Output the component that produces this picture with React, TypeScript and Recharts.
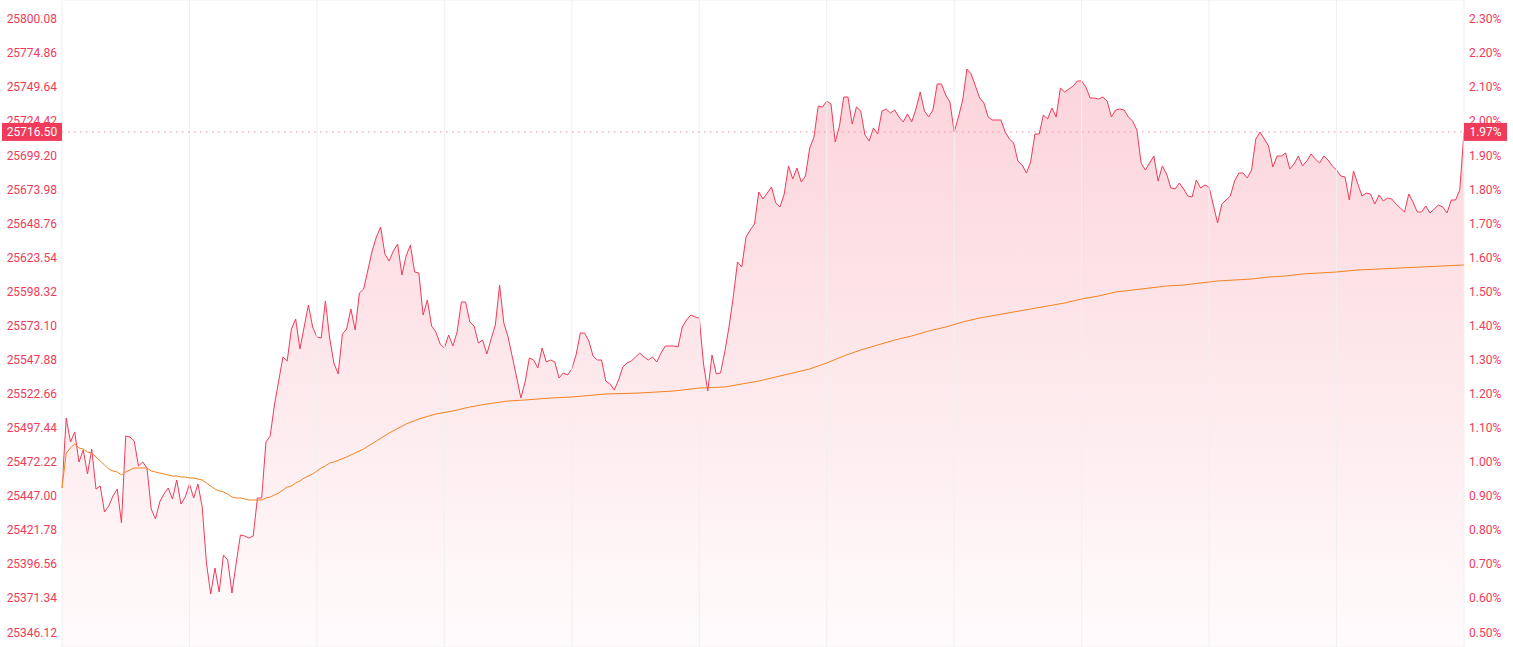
import React from 'react';
import {
  ComposedChart,
  Area,
  Line,
  XAxis,
  YAxis,
  CartesianGrid,
  ReferenceLine,
} from 'recharts';

// one value per minute, 331 minutes
const prices = [
  25452.92, 25504.74, 25486.97, 25494.37, 25472.17, 25481.05, 25463.29, 25481.79, 25452.18, 25454.4,
  25435.16, 25439.6, 25447.0, 25452.18, 25427.02, 25491.41, 25490.67, 25487.71, 25469.21, 25472.17,
  25467.73, 25437.38, 25429.98, 25442.56, 25448.48, 25452.92, 25444.78, 25458.84, 25441.08, 25446.26,
  25455.88, 25445.52, 25455.88, 25438.86, 25397.41, 25374.46, 25393.71, 25375.94, 25403.33, 25399.63,
  25375.2, 25397.41, 25418.13, 25417.39, 25415.91, 25417.39, 25445.52, 25445.52, 25486.97, 25491.41,
  25514.36, 25532.12, 25549.89, 25546.93, 25570.61, 25578.02, 25555.81, 25572.09, 25588.38, 25572.09,
  25564.69, 25563.95, 25591.34, 25563.95, 25545.45, 25537.31, 25566.91, 25570.61, 25585.42, 25569.87,
  25597.26, 25600.22, 25614.29, 25628.35, 25638.71, 25646.11, 25626.13, 25620.95, 25628.35, 25633.53,
  25610.58, 25624.65, 25632.79, 25612.81, 25612.07, 25580.98, 25592.08, 25572.83, 25568.39, 25559.51,
  25556.55, 25566.17, 25558.03, 25568.39, 25590.6, 25590.6, 25575.8, 25572.83, 25560.25, 25562.47,
  25552.11, 25563.21, 25573.57, 25603.18, 25575.06, 25564.69, 25549.89, 25535.08, 25519.54, 25531.38,
  25549.15, 25547.67, 25541.75, 25556.55, 25546.19, 25547.67, 25546.19, 25534.34, 25538.05, 25536.56,
  25541.01, 25551.37, 25567.65, 25567.65, 25561.73, 25550.63, 25547.67, 25547.67, 25532.12, 25529.9,
  25525.46, 25532.86, 25542.49, 25545.45, 25546.93, 25549.89, 25552.85, 25549.89, 25547.67, 25549.89,
  25546.19, 25552.85, 25558.03, 25558.03, 25558.03, 25557.29, 25572.09, 25577.28, 25580.98, 25579.5,
  25578.76, 25544.71, 25524.72, 25551.37, 25537.31, 25538.05, 25553.59, 25572.09, 25594.3, 25620.21,
  25616.51, 25638.71, 25643.89, 25648.34, 25672.02, 25666.84, 25671.28, 25675.72, 25663.88, 25660.92,
  25670.54, 25691.27, 25681.64, 25689.79, 25679.42, 25683.86, 25704.59, 25712.73, 25735.68, 25734.94,
  25739.38, 25737.16, 25709.03, 25720.87, 25742.34, 25742.34, 25722.36, 25734.94, 25731.98, 25714.21,
  25709.77, 25719.39, 25714.95, 25731.98, 25733.46, 25730.5, 25732.72, 25727.54, 25723.84, 25729.76,
  25723.84, 25733.46, 25746.04, 25731.98, 25727.54, 25732.72, 25751.96, 25751.96, 25743.82, 25738.64,
  25716.43, 25727.54, 25740.12, 25763.07, 25759.37, 25750.48, 25741.6, 25737.9, 25727.54, 25725.32,
  25725.32, 25725.32, 25716.43, 25711.25, 25708.29, 25694.97, 25692.01, 25686.09, 25694.23, 25714.95,
  25714.95, 25729.02, 25726.06, 25734.2, 25727.54, 25749.0, 25746.04, 25748.26, 25750.48, 25754.18,
  25754.18, 25749.74, 25741.6, 25741.6, 25740.86, 25742.34, 25739.38, 25727.54, 25732.72, 25733.46,
  25732.72, 25727.54, 25724.58, 25717.91, 25693.49, 25688.31, 25693.49, 25698.67, 25680.16, 25691.27,
  25685.35, 25674.98, 25674.24, 25678.68, 25674.24, 25669.06, 25668.32, 25680.9, 25674.98, 25677.2,
  25675.72, 25662.4, 25649.08, 25663.14, 25666.1, 25669.06, 25680.16, 25686.09, 25686.09, 25682.38,
  25688.31, 25711.25, 25716.43, 25711.25, 25706.07, 25690.53, 25698.67, 25698.67, 25700.89, 25689.05,
  25692.75, 25698.67, 25691.27, 25694.97, 25700.15, 25696.45, 25693.49, 25698.67, 25695.71, 25691.27,
  25688.31, 25683.86, 25683.12, 25666.1, 25687.57, 25677.94, 25669.06, 25671.28, 25670.54, 25663.14,
  25669.8, 25665.36, 25667.58, 25666.84, 25663.14, 25660.18, 25657.22, 25670.54, 25664.62, 25657.22,
  25657.22, 25661.66, 25656.48, 25659.44, 25662.4, 25660.92, 25656.48, 25666.1, 25666.1, 25673.5,
  25716.5,
];

// average price line, read at these minutes
const avgMinutes = [
  0, 1, 2, 3, 4, 5, 6, 7, 8, 9, 10, 11, 12, 13, 14, 15, 16, 17, 18, 19,
  20, 21, 22, 23, 24, 25, 26, 27, 28, 29, 30, 31, 32, 33, 34, 35, 36, 37, 38, 39,
  40, 41, 42, 43, 44, 45, 46, 47, 48, 49, 50, 51, 52, 53, 54, 55, 56, 57, 58, 59,
  60, 61, 62, 63, 64, 67, 71, 74, 77, 81, 84, 88, 92, 96, 100, 105, 109, 115, 120, 128,
  136, 144, 150, 156, 160, 164, 168, 172, 176, 180, 184, 188, 192, 196, 200, 204, 208, 212, 216, 220,
  224, 228, 232, 236, 240, 244, 248, 252, 256, 260, 264, 268, 272, 276, 280, 284, 288, 292, 296, 300,
  305, 310, 315, 320, 325, 330,
];
const avgPrices = [
  25452.92, 25478.83, 25482.53, 25485.49, 25482.53, 25481.79, 25479.57, 25478.83, 25475.87, 25472.91,
  25469.95, 25466.99, 25465.51, 25464.77, 25462.54, 25464.77, 25466.25, 25467.73, 25467.73, 25467.73,
  25467.73, 25465.51, 25464.77, 25464.03, 25463.29, 25462.54, 25461.8, 25461.8, 25461.06, 25461.06,
  25460.32, 25460.32, 25459.58, 25458.84, 25456.62, 25454.4, 25452.18, 25450.7, 25449.96, 25448.48,
  25446.26, 25445.52, 25445.52, 25444.78, 25444.04, 25444.04, 25444.04, 25444.04, 25445.52, 25446.26,
  25447.74, 25449.22, 25451.44, 25453.66, 25454.4, 25456.62, 25458.1, 25460.32, 25461.8, 25463.29,
  25465.51, 25467.73, 25469.21, 25471.43, 25472.17, 25475.87, 25481.79, 25487.71, 25493.63, 25500.3,
  25504.0, 25507.7, 25509.92, 25512.88, 25515.1, 25517.32, 25518.06, 25519.54, 25520.28, 25522.5,
  25523.24, 25524.72, 25526.94, 25527.68, 25529.9, 25532.12, 25535.08, 25538.05, 25541.01, 25545.45,
  25550.63, 25555.07, 25558.77, 25562.47, 25565.43, 25569.13, 25572.09, 25575.8, 25578.76, 25580.98,
  25583.2, 25585.42, 25587.64, 25589.86, 25592.82, 25595.04, 25598.0, 25599.48, 25600.96, 25602.44,
  25603.18, 25604.66, 25606.14, 25606.88, 25607.62, 25609.1, 25609.84, 25611.33, 25612.07, 25612.81,
  25614.29, 25615.03, 25615.77, 25616.51, 25617.25, 25617.99,
];

const priceTicks = [
  25800.08, 25774.86, 25749.64, 25724.42, 25699.2, 25673.98, 25648.76, 25623.54, 25598.32, 25573.1,
  25547.88, 25522.66, 25497.44, 25472.22, 25447.0, 25421.78, 25396.56, 25371.34, 25346.12,
];
const pctTicks = [
  '2.30%', '2.20%', '2.10%', '2.00%', '1.90%', '1.80%', '1.70%', '1.60%', '1.50%', '1.40%',
  '1.30%', '1.20%', '1.10%', '1.00%', '0.90%', '0.80%', '0.70%', '0.60%', '0.50%',
];
const minuteTicks = [0, 30, 60, 90, 120, 150, 180, 210, 240, 270, 300, 330];

const lastPrice = 25716.5;
const lastPriceLabel = '25716.50';
const lastPctLabel = '1.97%';
const priceDomain = [25335.23, 25814.14];

const RED = '#ef3b59';
const ORANGE = '#f5821f';
const GRID = '#f0f0f0';
const FONT = 'Roboto, "Noto Sans", sans-serif';

const avgByMinute = new Map(avgMinutes.map((m, k) => [m, avgPrices[k]]));
const rows = prices.map((p, i) => ({
  minute: i,
  price: p,
  avg: avgByMinute.has(i) ? avgByMinute.get(i) : null,
}));

const pctFor = (v: number) => {
  const k = priceTicks.findIndex((t) => Math.abs(t - v) < 0.01);
  return k >= 0 ? pctTicks[k] : '';
};

function LastBadges(props: any) {
  const vb = props.viewBox;
  if (!vb) return null;
  const { x, y, width } = vb;
  return (
    <g>
      <rect x={x - 60} y={y - 9} width={60} height={18} fill={RED} />
      <text
        x={x - 30}
        y={y}
        dy="0.36em"
        textAnchor="middle"
        fill="#fff"
        fontSize={12}
        fontFamily={FONT}
      >
        {lastPriceLabel}
      </text>
      <rect x={x + width} y={y - 9} width={43} height={18} fill={RED} />
      <text
        x={x + width + 21.5}
        y={y}
        dy="0.36em"
        textAnchor="middle"
        fill="#fff"
        fontSize={12}
        fontFamily={FONT}
      >
        {lastPctLabel}
      </text>
    </g>
  );
}

export default function App() {
  return (
    <div
      style={{
        position: 'absolute',
        left: 0,
        top: 0,
        width: 1513,
        height: 647,
        background: '#fff',
      }}
    >
      <ComposedChart
        width={1513}
        height={647}
        data={rows}
        margin={{ top: 0, right: 0, left: 0, bottom: 0 }}
        style={{ fontFamily: FONT }}
      >
        <defs>
          <linearGradient id="priceFill" x1="0" y1="0" x2="0" y2="1">
            <stop offset="0%" stopColor="#f03c5a" stopOpacity={0.22} />
            <stop offset="100%" stopColor="#f03c5a" stopOpacity={0.02} />
          </linearGradient>
        </defs>
        <CartesianGrid stroke={GRID} strokeWidth={1} vertical={false} />
        <XAxis
          dataKey="minute"
          type="number"
          domain={[0, 330]}
          ticks={minuteTicks}
          height={0}
          tick={false}
          axisLine={false}
          tickLine={false}
        />
        <YAxis
          yAxisId="left"
          orientation="left"
          width={62}
          domain={priceDomain}
          allowDataOverflow
          ticks={priceTicks}
          interval={0}
          axisLine={false}
          tickLine={false}
          tickSize={0}
          tickMargin={5}
          tick={{ fontSize: 12, fill: RED, fontFamily: FONT }}
          tickFormatter={(v: number) => v.toFixed(2)}
        />
        <YAxis
          yAxisId="right"
          orientation="right"
          width={49}
          domain={priceDomain}
          allowDataOverflow
          ticks={priceTicks}
          interval={0}
          axisLine={false}
          tickLine={false}
          tickSize={0}
          tickMargin={5}
          tick={{ fontSize: 12, fill: RED, fontFamily: FONT }}
          tickFormatter={pctFor}
        />
        {minuteTicks.map((m) => (
          <ReferenceLine
            key={m}
            yAxisId="left"
            x={m}
            stroke={GRID}
            strokeWidth={1}
          />
        ))}
        <Area
          yAxisId="left"
          type="linear"
          dataKey="price"
          stroke={RED}
          strokeWidth={1}
          fill="url(#priceFill)"
          fillOpacity={1}
          dot={false}
          activeDot={false}
          isAnimationActive={false}
        />
        <Line
          yAxisId="right"
          type="linear"
          dataKey="avg"
          stroke={ORANGE}
          strokeWidth={1}
          dot={false}
          activeDot={false}
          connectNulls
          isAnimationActive={false}
        />
        <ReferenceLine
          yAxisId="left"
          y={lastPrice}
          stroke="#ee8ea2"
          strokeWidth={1}
          strokeDasharray="1.5 4.5"
          label={<LastBadges />}
        />
      </ComposedChart>
    </div>
  );
}
